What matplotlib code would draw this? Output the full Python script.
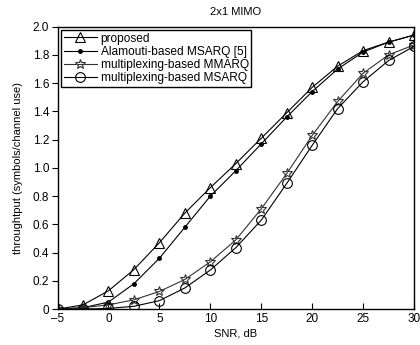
import matplotlib
matplotlib.use('Agg')
from matplotlib import pyplot as plt

plt.rcParams['font.family'] = ['Liberation Sans', 'DejaVu Sans']
plt.rcParams['axes.unicode_minus'] = True

snr = [-5, -2.5, 0, 2.5, 5, 7.5, 10, 12.5, 15, 17.5, 20, 22.5, 25, 27.5, 30]
proposed = [0.0, 0.03, 0.13, 0.28, 0.47, 0.68, 0.86, 1.03, 1.21, 1.39, 1.57, 1.72, 1.83, 1.89, 1.94]
alamouti = [0.0, 0.01, 0.05, 0.18, 0.36, 0.58, 0.80, 0.98, 1.17, 1.36, 1.54, 1.70, 1.82, 1.89, 1.94]
mmarq = [0.0, 0.01, 0.03, 0.066, 0.125, 0.21, 0.335, 0.49, 0.71, 0.96, 1.23, 1.47, 1.67, 1.80, 1.87]
msarq = [0.0, 0.0, 0.005, 0.02, 0.06, 0.15, 0.277, 0.435, 0.63, 0.89, 1.16, 1.42, 1.61, 1.76, 1.86]

fig = plt.figure(figsize=(4.2, 3.45), dpi=100)
ax = fig.add_axes([0.137, 0.104, 0.849, 0.819])

ax.plot(snr, proposed, color='black', lw=0.8, marker='^', ms=7, mfc='none', mec='black', mew=0.8,
        label='proposed')
ax.plot(snr, alamouti, color='black', lw=0.8, marker='o', ms=2.5, mfc='black', mec='black',
        label='Alamouti-based MSARQ [5]')
ax.plot(snr, mmarq, color='#333333', lw=0.8, marker='*', ms=7.5, mfc='none', mec='#333333', mew=0.8,
        label='multiplexing-based MMARQ')
ax.plot(snr, msarq, color='black', lw=0.8, marker='o', ms=7, mfc='none', mec='black', mew=0.8,
        label='multiplexing-based MSARQ')

ax.set_xlim(-5, 30)
ax.set_ylim(0, 2.0)
ax.set_xticks(range(-5, 31, 5))
ax.set_xticklabels(['\u20135', '0', '5', '10', '15', '20', '25', '30'])
yt = [0, 0.2, 0.4, 0.6, 0.8, 1.0, 1.2, 1.4, 1.6, 1.8, 2.0]
ax.set_yticks(yt)
ax.set_yticklabels(['0'] + ['%.1f' % v for v in yt[1:]])
ax.tick_params(axis='x', direction='in', length=4, labelsize=8.5, pad=3)
ax.tick_params(axis='y', direction='out', length=4, labelsize=8.5, pad=2)
for s in ax.spines.values():
    s.set_linewidth(1.0)

ax.set_title('2x1 MIMO', fontsize=8, pad=8)
ax.set_xlabel('SNR, dB', fontsize=8, labelpad=2)
ax.set_ylabel('throughtput (symbols/channel use)', fontsize=8, labelpad=7)

leg = ax.legend(loc='upper left', fontsize=8.6, frameon=True, fancybox=False, edgecolor='black',
                handlelength=2.8, borderpad=0.2, labelspacing=0.1, handletextpad=0.3,
                borderaxespad=0.3, framealpha=1)
leg.get_frame().set_linewidth(1.0)

fig.savefig('out.png', dpi=100)
